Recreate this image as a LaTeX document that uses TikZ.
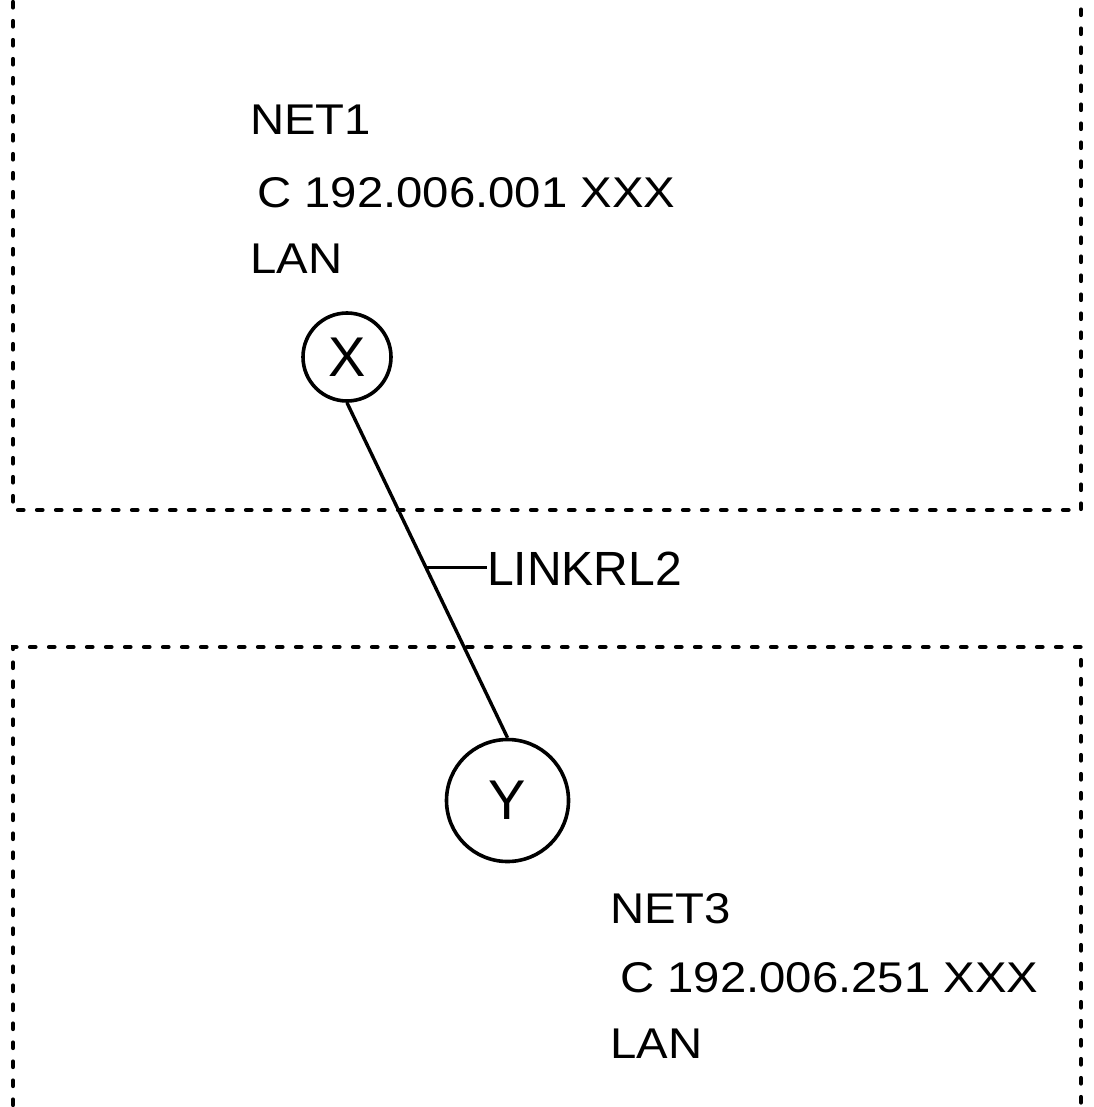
\documentclass[tikz,border=0pt]{standalone}
\usepackage{fontspec}
\setmainfont{Liberation Sans}
\newfontfamily\widesans[FakeStretch=1.10]{Liberation Sans}
\begin{document}
\begin{tikzpicture}[x=1pt,y=-1pt,
  boxline/.style={line width=4.2pt, line cap=round, dash pattern=on 5.5pt off 13.5pt},
  txt/.style={font=\widesans\fontsize{43}{43}\selectfont, inner sep=0pt, anchor=base west},
  host/.style={circle, draw, line width=3.6pt, inner sep=0pt, font=\fontsize{56}{56}\selectfont},
  link/.style={line width=3.4pt}]
\useasboundingbox (0,0) rectangle (1093,1107);
% network boxes
\draw[boxline] (13,2) -- (13,510) -- (1081,510) -- (1081,2);
\draw[boxline] (13,1105) -- (13,647) -- (1081,647) -- (1081,1105);
% texts NET1
\node[txt] (n1a) at (250,135) {NET1};
\node[txt] (n1b) at (257,208) {C 192.006.001 XXX};
\node[txt] (n1c) at (250,273) {LAN};
% texts NET3
\node[txt] (n3a) at (610,923) {NET3};
\node[txt] (n3b) at (620,992) {C 192.006.251 XXX};
\node[txt] (n3c) at (610,1058) {LAN};
% hosts
\node[host, minimum size=88pt] (X) at (347,357) {X};
\node[host, minimum size=122pt] (Y) at (507.5,800.5) {Y};
\draw[link] (X.south) -- (Y.north) coordinate[pos=0.492] (t);
\node[font=\fontsize{48}{48}\selectfont, inner sep=0pt, anchor=west] (lk) at (487,569) {LINKRL2};
\draw[link] (t) -- (t -| lk.west);
\end{tikzpicture}
\end{document}
